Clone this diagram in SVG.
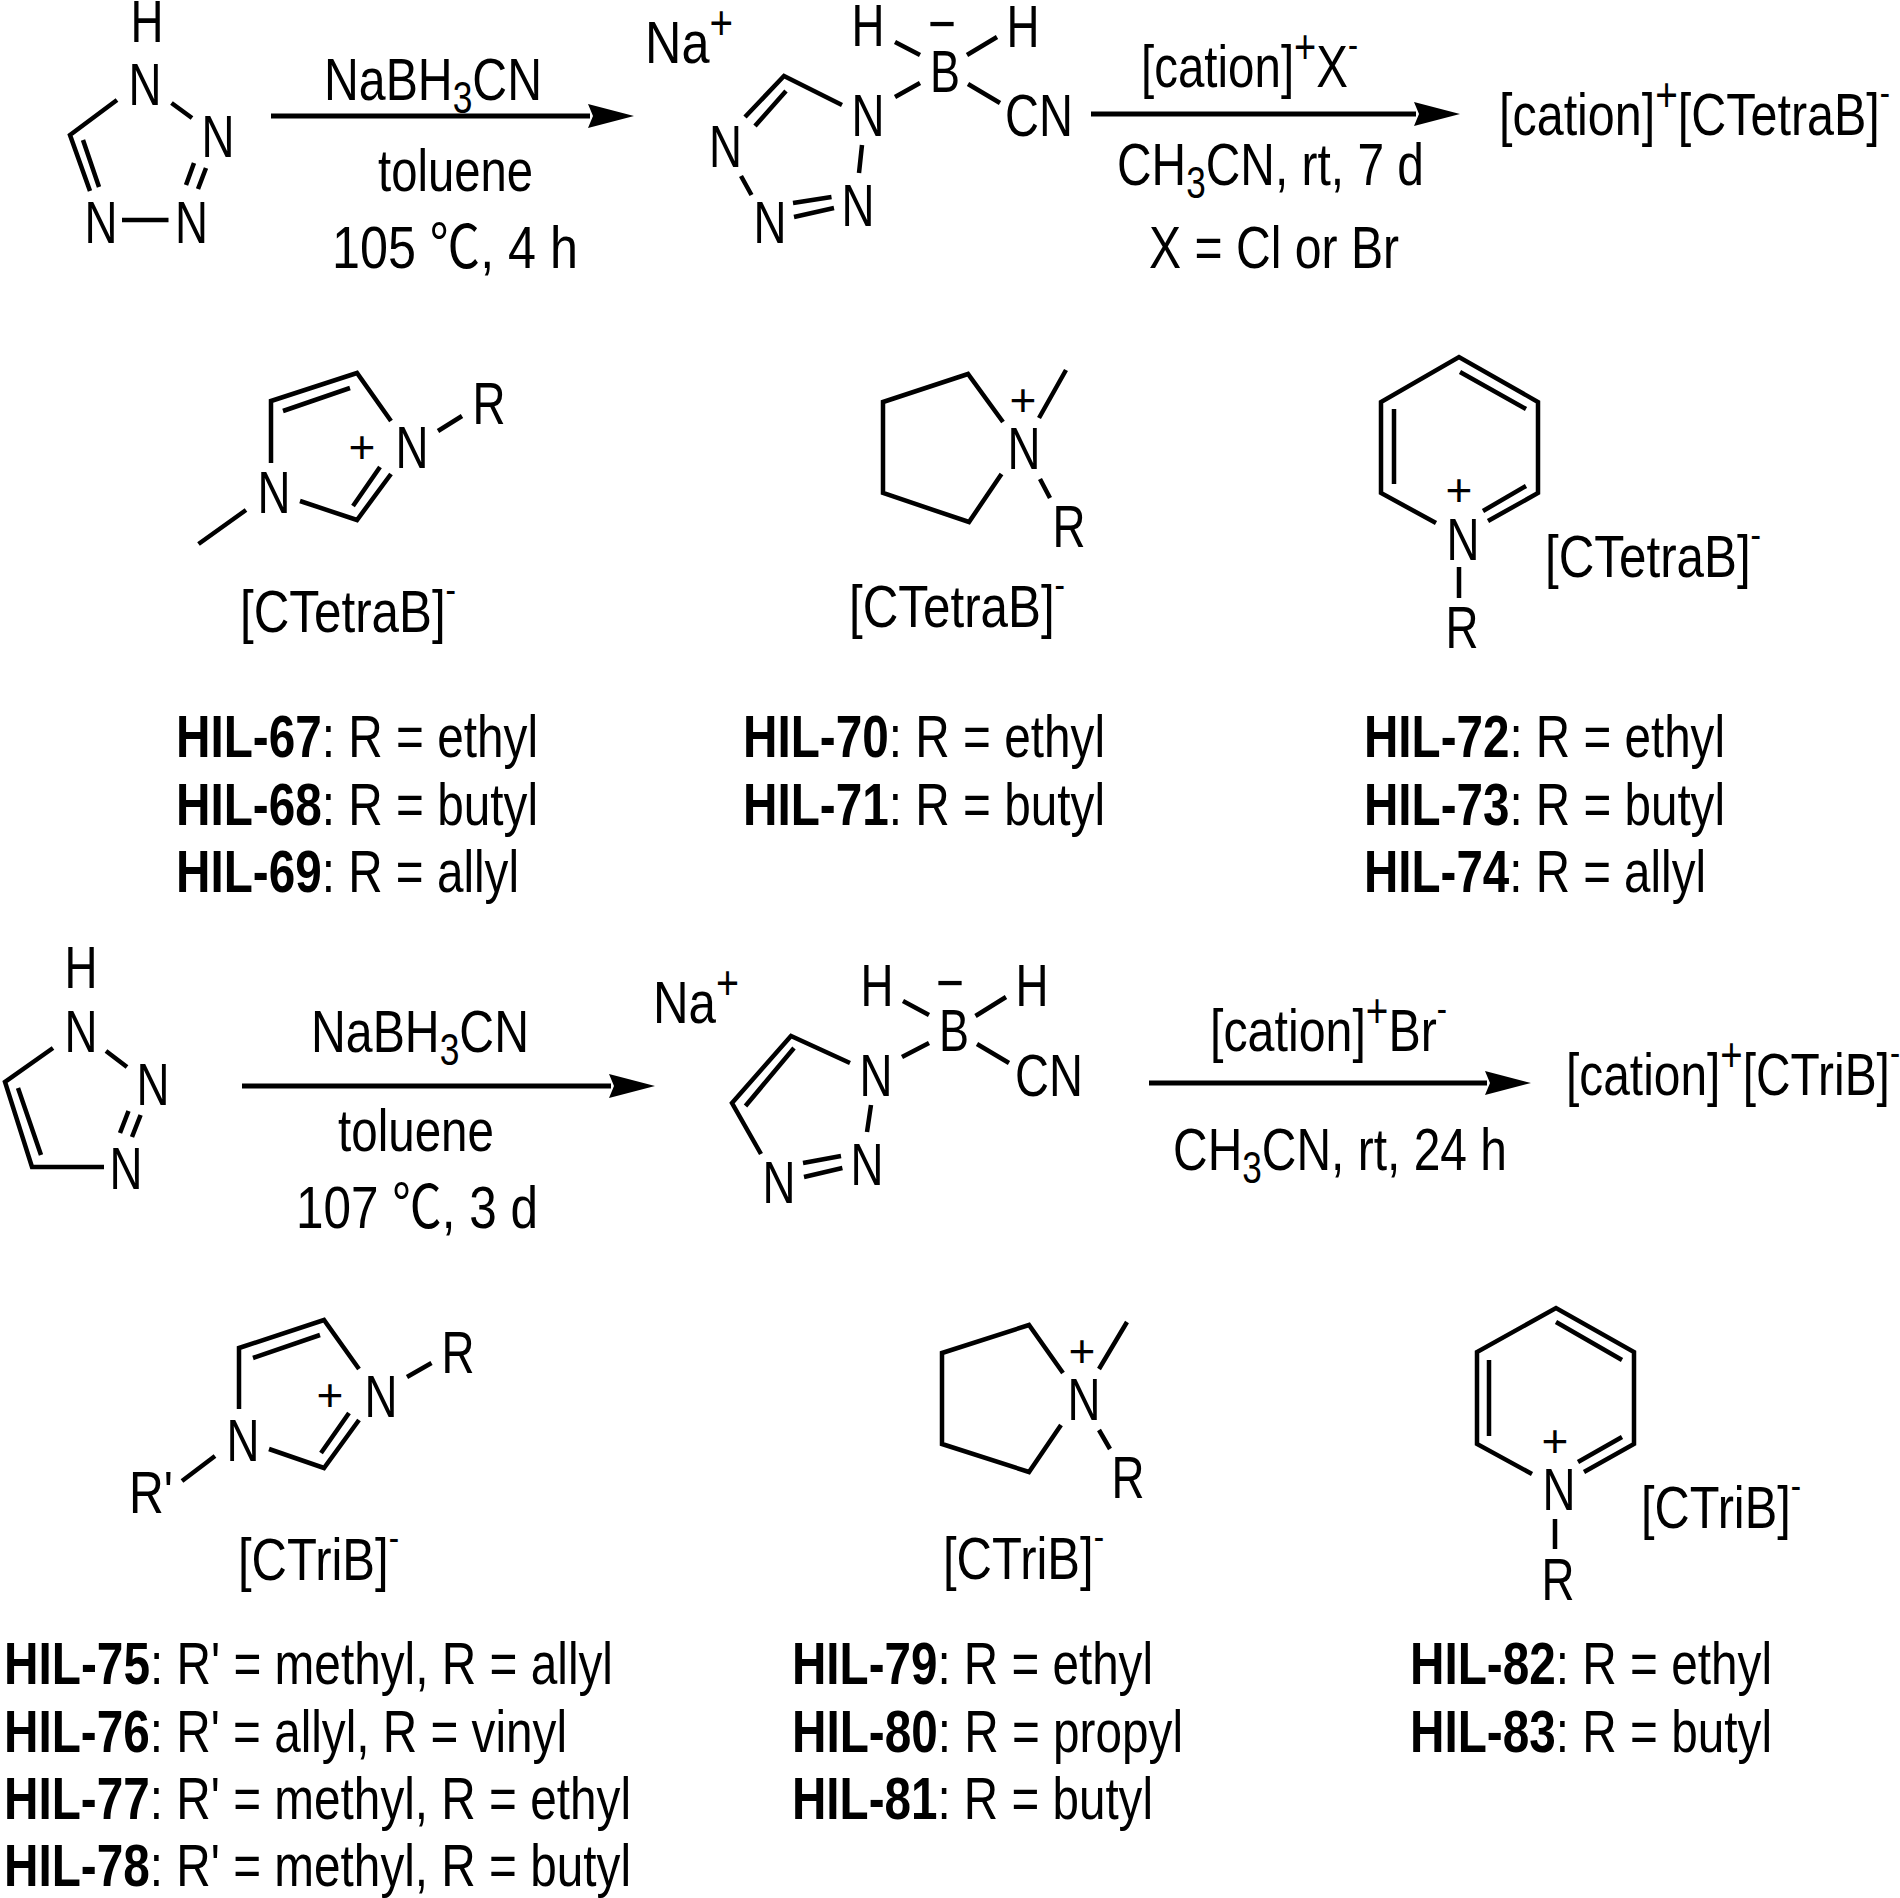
<svg xmlns="http://www.w3.org/2000/svg" width="1900" height="1898" viewBox="0 0 1900 1898">
<style>
text{font-family:"Liberation Sans",Arial,"Noto Sans CJK SC",sans-serif;font-size:60px;fill:#000}
.a{text-anchor:middle}
.p{font-size:46px;text-anchor:middle}
.b{font-weight:700}
.s{font-size:44px}
.u{font-size:48px}
.m{font-size:38px}
.bond{fill:none;stroke:#000;stroke-width:4.500}
.arrow{fill:none;stroke:#000;stroke-width:5}
</style>
<defs><marker id="head" markerUnits="userSpaceOnUse" viewBox="0 0 46 24" refX="2" refY="12" markerWidth="46" markerHeight="24" orient="auto"><path d="M0 0L46 12L0 24L5 12z" fill="#000"/></marker></defs>
<rect width="1900" height="1898" fill="#fff"/>
<g id="connectors">
<path class="arrow" marker-end="url(#head)" d="M271 116H590"/>
<path class="arrow" marker-end="url(#head)" d="M1091 114H1416"/>
<path class="arrow" marker-end="url(#head)" d="M242 1086H611"/>
<path class="arrow" marker-end="url(#head)" d="M1149 1083H1487"/>
</g>
<g id="tetrazole">
<path class="bond" d="M117 100L70 135L90 191M83 140L99 187M171.500 103L192 118M194 163L186 185M206 168L198 189M122 220H168.500"/>
<text class="a" x="147" y="42" textLength="33" lengthAdjust="spacingAndGlyphs">H</text>
<text class="a" x="145" y="105" textLength="33" lengthAdjust="spacingAndGlyphs">N</text>
<text class="a" x="218" y="157" textLength="33" lengthAdjust="spacingAndGlyphs">N</text>
<text class="a" x="191.500" y="243" textLength="33" lengthAdjust="spacingAndGlyphs">N</text>
<text class="a" x="101" y="243" textLength="33" lengthAdjust="spacingAndGlyphs">N</text>
</g>
<g id="cond-1a">
<text x="324" y="100" textLength="218" lengthAdjust="spacingAndGlyphs">NaBH<tspan class="s" dy="13">3</tspan><tspan dy="-13">CN</tspan></text>
<text x="378" y="191" textLength="155" lengthAdjust="spacingAndGlyphs">toluene</text>
<text x="332" y="268" textLength="246" lengthAdjust="spacingAndGlyphs">105 ℃, 4 h</text>
</g>
<g id="na-cyanoborate-tetrazole">
<text x="645" y="63" textLength="88" lengthAdjust="spacingAndGlyphs">Na<tspan class="u" dy="-24">+</tspan></text>
<path class="bond" d="M842 105L784 76L745 117M786 91L755 126M741 176L751.500 195M793 203L831.500 197M794 217L834 208M862 145L859 173M895 42L920 55M895 97L920 83M967 55L997 37M968 84L1000 103"/>
<text class="a" x="868" y="46" textLength="33" lengthAdjust="spacingAndGlyphs">H</text>
<text class="a" x="942" y="44" textLength="28" lengthAdjust="spacingAndGlyphs">−</text>
<text class="a" x="945" y="92" textLength="30" lengthAdjust="spacingAndGlyphs">B</text>
<text class="a" x="1023" y="47" textLength="33" lengthAdjust="spacingAndGlyphs">H</text>
<text x="1005" y="136" textLength="68" lengthAdjust="spacingAndGlyphs">CN</text>
<text class="a" x="868" y="136" textLength="33" lengthAdjust="spacingAndGlyphs">N</text>
<text class="a" x="725.500" y="167" textLength="33" lengthAdjust="spacingAndGlyphs">N</text>
<text class="a" x="770" y="243" textLength="33" lengthAdjust="spacingAndGlyphs">N</text>
<text class="a" x="858" y="226" textLength="33" lengthAdjust="spacingAndGlyphs">N</text>
</g>
<g id="cond-1b">
<text x="1141" y="87" textLength="217" lengthAdjust="spacingAndGlyphs">[cation]<tspan class="u" dy="-24">+</tspan><tspan dy="24">X</tspan><tspan class="m" dy="-29">-</tspan></text>
<text x="1117" y="185" textLength="307" lengthAdjust="spacingAndGlyphs">CH<tspan class="s" dy="13">3</tspan><tspan dy="-13">CN, rt, 7 d</tspan></text>
<text x="1149" y="268" textLength="250" lengthAdjust="spacingAndGlyphs">X = Cl or Br</text>
</g>
<g id="product-1">
<text x="1499" y="135" textLength="391" lengthAdjust="spacingAndGlyphs">[cation]<tspan class="u" dy="-24">+</tspan><tspan dy="24">[CTetraB]</tspan><tspan class="m" dy="-29">-</tspan></text>
</g>
<g id="imidazolium-1">
<path class="bond" d="M271 463V401L357 373L391 421M283 411L350 388M391 474L357 520L300 501M380 467L353 506M246 510L198.500 544M438 431L462 416"/>
<text class="a" x="274" y="513" textLength="33" lengthAdjust="spacingAndGlyphs">N</text>
<text class="a" x="412" y="468" textLength="33" lengthAdjust="spacingAndGlyphs">N</text>
<text class="a" x="489" y="424" textLength="33" lengthAdjust="spacingAndGlyphs">R</text>
<text class="p" x="362" y="463">+</text>
<text x="240" y="632" textLength="216" lengthAdjust="spacingAndGlyphs">[CTetraB]<tspan class="m" dy="-29">-</tspan></text>
</g>
<g id="pyrrolidinium-1">
<path class="bond" d="M1003 422L968 374L883 402V493L969 522L1001.500 474M1039 418L1066 370M1040 479L1050 498"/>
<text class="a" x="1024" y="469" textLength="33" lengthAdjust="spacingAndGlyphs">N</text>
<text class="a" x="1069" y="547" textLength="33" lengthAdjust="spacingAndGlyphs">R</text>
<text class="p" x="1023" y="416">+</text>
<text x="849" y="627" textLength="216" lengthAdjust="spacingAndGlyphs">[CTetraB]<tspan class="m" dy="-29">-</tspan></text>
</g>
<g id="pyridinium-1">
<path class="bond" d="M1436 523L1381 493V402L1459 357L1538 402V493L1488 521M1483 511L1526 486M1460 372L1526 409M1394 409V484M1459 567V598"/>
<text class="a" x="1463" y="560" textLength="33" lengthAdjust="spacingAndGlyphs">N</text>
<text class="a" x="1462" y="648" textLength="33" lengthAdjust="spacingAndGlyphs">R</text>
<text class="p" x="1459" y="506">+</text>
<text x="1545" y="577" textLength="216" lengthAdjust="spacingAndGlyphs">[CTetraB]<tspan class="m" dy="-29">-</tspan></text>
</g>
<g id="list-1">
<text x="176" y="757" textLength="362" lengthAdjust="spacingAndGlyphs"><tspan class="b">HIL-67</tspan>: R = ethyl</text>
<text x="176" y="825" textLength="362" lengthAdjust="spacingAndGlyphs"><tspan class="b">HIL-68</tspan>: R = butyl</text>
<text x="176" y="892" textLength="343" lengthAdjust="spacingAndGlyphs"><tspan class="b">HIL-69</tspan>: R = allyl</text>
<text x="743" y="757" textLength="362" lengthAdjust="spacingAndGlyphs"><tspan class="b">HIL-70</tspan>: R = ethyl</text>
<text x="743" y="825" textLength="362" lengthAdjust="spacingAndGlyphs"><tspan class="b">HIL-71</tspan>: R = butyl</text>
<text x="1364" y="757" textLength="361" lengthAdjust="spacingAndGlyphs"><tspan class="b">HIL-72</tspan>: R = ethyl</text>
<text x="1364" y="825" textLength="361" lengthAdjust="spacingAndGlyphs"><tspan class="b">HIL-73</tspan>: R = butyl</text>
<text x="1364" y="892" textLength="342" lengthAdjust="spacingAndGlyphs"><tspan class="b">HIL-74</tspan>: R = allyl</text>
</g>
<g id="triazole">
<path class="bond" d="M53 1048L5 1082L32 1167H104M18 1088L41 1155M106 1051L127 1067M128.500 1111L120 1133M140.600 1115L132 1137"/>
<text class="a" x="81" y="988" textLength="33" lengthAdjust="spacingAndGlyphs">H</text>
<text class="a" x="81" y="1052" textLength="33" lengthAdjust="spacingAndGlyphs">N</text>
<text class="a" x="153" y="1105" textLength="33" lengthAdjust="spacingAndGlyphs">N</text>
<text class="a" x="126" y="1189" textLength="33" lengthAdjust="spacingAndGlyphs">N</text>
</g>
<g id="cond-2a">
<text x="311" y="1052" textLength="218" lengthAdjust="spacingAndGlyphs">NaBH<tspan class="s" dy="13">3</tspan><tspan dy="-13">CN</tspan></text>
<text x="338" y="1151" textLength="156" lengthAdjust="spacingAndGlyphs">toluene</text>
<text x="296" y="1228" textLength="242" lengthAdjust="spacingAndGlyphs">107 ℃, 3 d</text>
</g>
<g id="na-cyanoborate-triazole">
<text x="653" y="1023" textLength="86" lengthAdjust="spacingAndGlyphs">Na<tspan class="u" dy="-24">+</tspan></text>
<path class="bond" d="M850 1063L791 1036L732 1103L761 1154M794 1048L745.500 1106M803 1163L841 1156M804 1177L842.400 1168M871 1105L867 1132M903 1001L929 1015M902 1057L929 1043M975.500 1016L1006 997M977 1044L1009 1063"/>
<text class="a" x="877" y="1006" textLength="33" lengthAdjust="spacingAndGlyphs">H</text>
<text class="a" x="950" y="1003" textLength="28" lengthAdjust="spacingAndGlyphs">−</text>
<text class="a" x="954" y="1051" textLength="30" lengthAdjust="spacingAndGlyphs">B</text>
<text class="a" x="1032" y="1006" textLength="33" lengthAdjust="spacingAndGlyphs">H</text>
<text x="1015" y="1096" textLength="68" lengthAdjust="spacingAndGlyphs">CN</text>
<text class="a" x="876" y="1096" textLength="33" lengthAdjust="spacingAndGlyphs">N</text>
<text class="a" x="779" y="1203" textLength="33" lengthAdjust="spacingAndGlyphs">N</text>
<text class="a" x="867" y="1185" textLength="33" lengthAdjust="spacingAndGlyphs">N</text>
</g>
<g id="cond-2b">
<text x="1210" y="1051" textLength="237" lengthAdjust="spacingAndGlyphs">[cation]<tspan class="u" dy="-24">+</tspan><tspan dy="24">Br</tspan><tspan class="m" dy="-29">-</tspan></text>
<text x="1173" y="1170" textLength="334" lengthAdjust="spacingAndGlyphs">CH<tspan class="s" dy="13">3</tspan><tspan dy="-13">CN, rt, 24 h</tspan></text>
</g>
<g id="product-2">
<text x="1566" y="1095" textLength="334" lengthAdjust="spacingAndGlyphs">[cation]<tspan class="u" dy="-24">+</tspan><tspan dy="24">[CTriB]</tspan><tspan class="m" dy="-29">-</tspan></text>
</g>
<g id="imidazolium-2">
<path class="bond" d="M239 1409V1348L324 1320L359 1369M253 1358L320 1335M359 1420L324 1468L269 1449M349 1413L321 1453M182 1481L215 1456M407 1377L431.500 1363"/>
<text class="a" x="243" y="1461" textLength="33" lengthAdjust="spacingAndGlyphs">N</text>
<text class="a" x="381" y="1417" textLength="33" lengthAdjust="spacingAndGlyphs">N</text>
<text class="a" x="458" y="1373" textLength="33" lengthAdjust="spacingAndGlyphs">R</text>
<text x="129" y="1513" textLength="44" lengthAdjust="spacingAndGlyphs">R'</text>
<text class="p" x="330" y="1411">+</text>
<text x="238" y="1580" textLength="161" lengthAdjust="spacingAndGlyphs">[CTriB]<tspan class="m" dy="-29">-</tspan></text>
</g>
<g id="pyrrolidinium-2">
<path class="bond" d="M1063 1373L1029 1325L942 1353V1444L1029 1472L1061 1425M1099 1369L1127 1322M1099 1430L1110 1449"/>
<text class="a" x="1084" y="1420" textLength="33" lengthAdjust="spacingAndGlyphs">N</text>
<text class="a" x="1128" y="1498" textLength="33" lengthAdjust="spacingAndGlyphs">R</text>
<text class="p" x="1082" y="1367">+</text>
<text x="943" y="1579" textLength="161" lengthAdjust="spacingAndGlyphs">[CTriB]<tspan class="m" dy="-29">-</tspan></text>
</g>
<g id="pyridinium-2">
<path class="bond" d="M1532 1474L1477 1444V1352L1556 1308L1634 1352V1444L1584 1472M1578 1462L1622 1437M1556 1322L1622 1360M1489 1360V1436M1555 1519V1549"/>
<text class="a" x="1559" y="1510" textLength="33" lengthAdjust="spacingAndGlyphs">N</text>
<text class="a" x="1558" y="1600" textLength="33" lengthAdjust="spacingAndGlyphs">R</text>
<text class="p" x="1555" y="1457">+</text>
<text x="1641" y="1528" textLength="160" lengthAdjust="spacingAndGlyphs">[CTriB]<tspan class="m" dy="-29">-</tspan></text>
</g>
<g id="list-2">
<text x="4" y="1684" textLength="609" lengthAdjust="spacingAndGlyphs"><tspan class="b">HIL-75</tspan>: R' = methyl, R = allyl</text>
<text x="4" y="1752" textLength="563" lengthAdjust="spacingAndGlyphs"><tspan class="b">HIL-76</tspan>: R' = allyl, R = vinyl</text>
<text x="4" y="1819" textLength="627" lengthAdjust="spacingAndGlyphs"><tspan class="b">HIL-77</tspan>: R' = methyl, R = ethyl</text>
<text x="4" y="1886" textLength="627" lengthAdjust="spacingAndGlyphs"><tspan class="b">HIL-78</tspan>: R' = methyl, R = butyl</text>
<text x="792" y="1684" textLength="361" lengthAdjust="spacingAndGlyphs"><tspan class="b">HIL-79</tspan>: R = ethyl</text>
<text x="792" y="1752" textLength="391" lengthAdjust="spacingAndGlyphs"><tspan class="b">HIL-80</tspan>: R = propyl</text>
<text x="792" y="1819" textLength="361" lengthAdjust="spacingAndGlyphs"><tspan class="b">HIL-81</tspan>: R = butyl</text>
<text x="1410" y="1684" textLength="362" lengthAdjust="spacingAndGlyphs"><tspan class="b">HIL-82</tspan>: R = ethyl</text>
<text x="1410" y="1752" textLength="362" lengthAdjust="spacingAndGlyphs"><tspan class="b">HIL-83</tspan>: R = butyl</text>
</g>
</svg>
